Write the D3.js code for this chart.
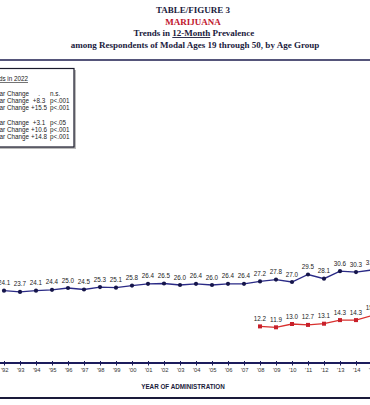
<!DOCTYPE html>
<html lang="en">
<head>
  <meta charset="UTF-8">
  <title>Marijuana 12-Month Prevalence</title>
  <style>
    * {box-sizing: border-box;}
    html, body {margin: 0; padding: 0; background: #fff;}
    svg {display: block;}
  </style>
</head>
<body>
  <svg id="chart"></svg>

  <script src="https://d3js.org/d3.v7.min.js"></script>
  <script>
    // values
    const years = d3.range(1992, 2016)
    const age1930 = [24.1, 23.7, 24.1, 24.4, 25.0, 24.5, 25.3, 25.1, 25.8, 26.4, 26.5, 26.0,
      26.4, 26.0, 26.4, 26.4, 27.2, 27.8, 27.0, 29.5, 28.1, 30.6, 30.3, 31.0]
    const yearsOlder = d3.range(2008, 2016)
    const age3550 = [12.2, 11.9, 13.0, 12.7, 13.1, 14.3, 14.3, 15.8]

    const titleLines = ['TABLE/FIGURE 3', 'MARIJUANA', 'Trends in 12-Month Prevalence',
      'among Respondents of Modal Ages 19 through 50, by Age Group']
    const legendTitle = 'Significance of Trends in 2022'
    const legendGroup1 = [['1-Year Change', '.', 'n.s.'], ['5-Year Change', '+8.3', 'p<.001'], ['10-Year Change', '+15.5', 'p<.001']]
    const legendGroup2 = [['1-Year Change', '+3.1', 'p<.05'], ['5-Year Change', '+10.6', 'p<.001'], ['10-Year Change', '+14.8', 'p<.001']]

    const width = 370
    const height = 405
    const svg = d3.select('#chart').attr('width', width).attr('height', height)
    svg.append('rect').attr('width', width).attr('height', height).attr('fill', '#fff')

    // title block
    const title = svg.append('g')
      .attr('font-family', '"Liberation Serif", "Times New Roman", serif')
      .attr('font-weight', 'bold')
      .attr('font-size', 9)
      .attr('text-anchor', 'middle')
    title.append('text').attr('x', 193).attr('y', 13).attr('fill', '#1b1b3d').text(titleLines[0])
    title.append('text').attr('x', 193).attr('y', 24.5).attr('fill', '#c0142c').text(titleLines[1])
    const t3 = title.append('text').attr('x', 194).attr('y', 36).attr('fill', '#1b1b3d')
    t3.append('tspan').text('Trends in ')
    t3.append('tspan').attr('text-decoration', 'underline').text('12-Month')
    t3.append('tspan').text(' Prevalence')
    title.append('text').attr('x', 195).attr('y', 47.5).attr('fill', '#1b1b3d').text(titleLines[3])

    svg.append('line').attr('x1', 0).attr('x2', width).attr('y1', 60).attr('y2', 60)
      .attr('stroke', '#55557a').attr('stroke-width', 2)

    // legend box (cut off at the left)
    svg.append('rect').attr('x', -80).attr('y', 70).attr('width', 156).attr('height', 79).attr('fill', '#bbb')
    svg.append('rect').attr('x', -82).attr('y', 68.5).attr('width', 156).attr('height', 78.5)
      .attr('fill', '#fff').attr('stroke', '#1a1a2a').attr('stroke-width', 1.2)
    const legend = svg.append('g')
      .attr('font-family', '"Liberation Sans", Arial, sans-serif')
      .attr('font-size', 6.3).attr('fill', '#222')
    legend.append('text').attr('x', 28).attr('y', 81).attr('text-anchor', 'end')
      .attr('text-decoration', 'underline').text(legendTitle)
    function legendRows (rows, y0) {
      rows.forEach((r, i) => {
        const y = y0 + i * 7
        legend.append('text').attr('x', 29).attr('y', y).attr('text-anchor', 'end').text(r[0])
        legend.append('text').attr('x', 39).attr('y', y).attr('text-anchor', 'middle').text(r[1])
        legend.append('text').attr('x', 50).attr('y', y).text(r[2])
      })
    }
    legendRows(legendGroup1, 96)
    legendRows(legendGroup2, 125)

    // scales
    const x = d3.scaleLinear().domain([1992, 2015]).range([4, 372])
    const y = d3.scaleLinear().domain([0, 100]).range([363, 63])

    // x axis
    const xAxis = d3.axisBottom(x)
      .tickValues(years)
      .tickSizeInner(2.5)
      .tickSizeOuter(0)
      .tickPadding(2.5)
      .tickFormat(d => '\u2019' + String(d).slice(2))
    const ax = svg.append('g').attr('transform', `translate(0,${y(0)})`).call(xAxis)
    ax.select('.domain').remove()
    ax.selectAll('.tick line').attr('stroke', '#1c1c5c').attr('y1', -2)
    ax.selectAll('.tick text').attr('font-size', 5.8).attr('fill', '#333')
      .attr('font-family', '"Liberation Sans", Arial, sans-serif')
    svg.append('line').attr('x1', 0).attr('x2', width).attr('y1', y(0)).attr('y2', y(0))
      .attr('stroke', '#1c1c5c').attr('stroke-width', 2)

    svg.append('text').attr('x', 183).attr('y', 388.5).attr('text-anchor', 'middle')
      .attr('font-family', '"Liberation Sans", Arial, sans-serif')
      .attr('font-weight', 'bold').attr('font-size', 6.3).attr('fill', '#1a1a3a')
      .text('YEAR OF ADMINISTRATION')

    svg.append('line').attr('x1', 0).attr('x2', width).attr('y1', 398).attr('y2', 398)
      .attr('stroke', '#1a1a3a').attr('stroke-width', 2)

    // series
    const blue = years.map((yr, i) => ({yr, v: age1930[i]}))
    const red = yearsOlder.map((yr, i) => ({yr, v: age3550[i]}))
    const line = d3.line().x(d => x(d.yr)).y(d => y(d.v))

    svg.append('path').datum(blue).attr('d', line)
      .attr('fill', 'none').attr('stroke', '#2a2a86').attr('stroke-width', 1.3)
    svg.append('path').datum(red).attr('d', line)
      .attr('fill', 'none').attr('stroke', '#d8302e').attr('stroke-width', 1.3)

    svg.selectAll('.dot-blue').data(blue).enter().append('circle')
      .attr('class', 'dot-blue')
      .attr('cx', d => x(d.yr)).attr('cy', d => y(d.v)).attr('r', 2.1)
      .attr('fill', '#15154a')
    svg.selectAll('.dot-red').data(red).enter().append('rect')
      .attr('class', 'dot-red')
      .attr('x', d => x(d.yr) - 2).attr('y', d => y(d.v) - 2)
      .attr('width', 4).attr('height', 4)
      .attr('fill', '#c8202a')

    const fmt = d3.format('.1f')
    const labels = svg.append('g')
      .attr('font-family', '"Liberation Sans", Arial, sans-serif')
      .attr('font-size', 6.3).attr('fill', '#222').attr('text-anchor', 'middle')
    labels.selectAll('.lb').data(blue).enter().append('text')
      .attr('x', d => x(d.yr)).attr('y', d => y(d.v) - 5.5).text(d => fmt(d.v))
    labels.selectAll('.lr').data(red).enter().append('text')
      .attr('x', d => x(d.yr)).attr('y', d => y(d.v) - 5.5).text(d => fmt(d.v))
  </script>
</body>
</html>
